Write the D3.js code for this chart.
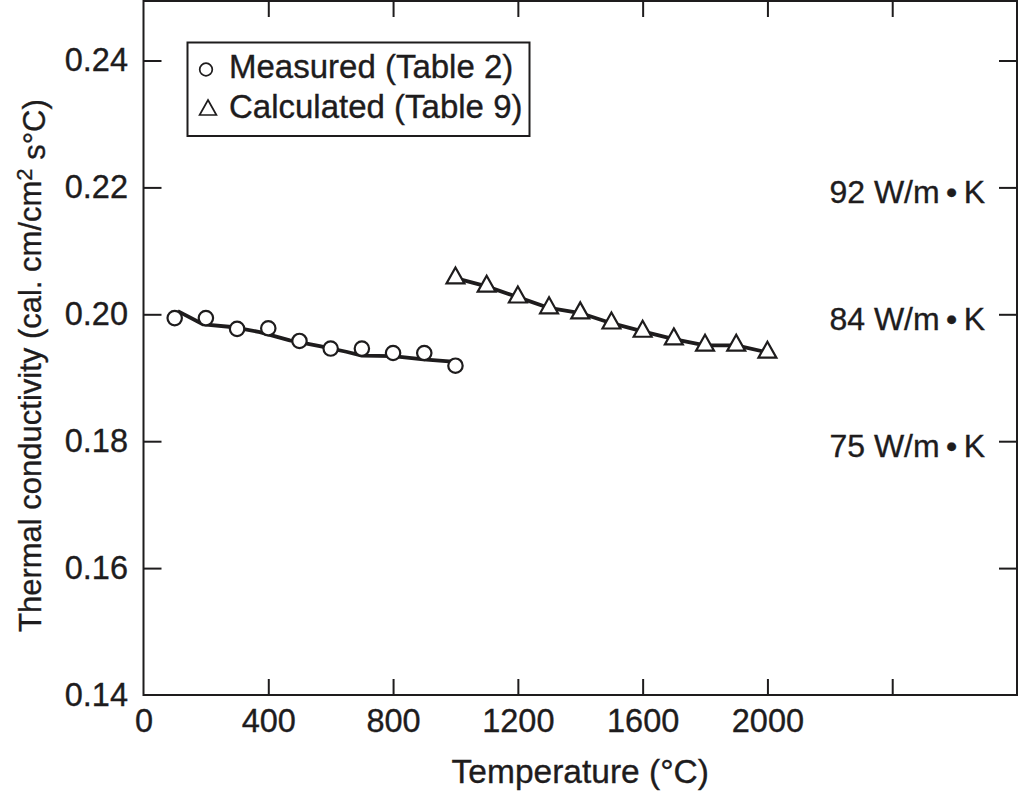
<!DOCTYPE html>
<html>
<head>
<meta charset="utf-8">
<script src="https://cdn.jsdelivr.net/npm/d3@7/dist/d3.min.js"></script>
<style>
  html, body { margin: 0; padding: 0; background: #fff; }
  svg { display: block; }
  text { font-family: "Liberation Sans", Arial, Helvetica, sans-serif; fill: #1e1c1d; stroke: #1e1c1d; stroke-width: 0.35px; }
</style>
</head>
<body>
<svg id="chart" width="1021" height="792"></svg>
<script>
// ---- data ----
const measuredT = [100, 200, 300, 400, 500, 600, 700, 800, 900, 1000];
const measuredK = [0.1994, 0.1994, 0.1977, 0.1978, 0.1958, 0.1946, 0.1946, 0.1939, 0.1939, 0.1919];

const measuredFitT = [110, 192, 283, 373, 469, 565, 650, 700, 800, 897, 1000];
const measuredFitK = [0.2005, 0.1984, 0.1980, 0.1972, 0.1959, 0.1950, 0.1941, 0.1935, 0.1934, 0.1929, 0.1925];

const calculatedT = [1000, 1100, 1200, 1300, 1400, 1500, 1600, 1700, 1800, 1900, 2000];
const calculatedK = [0.2057, 0.2044, 0.2027, 0.2010, 0.2002, 0.1986, 0.1973, 0.1961, 0.1951, 0.1951, 0.1940];

const xTickLabels = [0, 400, 800, 1200, 1600, 2000];
const xTickMarks = [400, 800, 1200, 1600, 2000, 2400];
const yTickLabels = [0.14, 0.16, 0.18, 0.20, 0.22, 0.24];
const yTickMarks = [0.16, 0.18, 0.20, 0.22, 0.24];

const siLabels = ["92 W/m\u2009\u2022\u2009K", "84 W/m\u2009\u2022\u2009K", "75 W/m\u2009\u2022\u2009K"];
const siLabelK = [0.22, 0.20, 0.18];

const legendLabels = ["Measured (Table 2)", "Calculated (Table 9)"];
const xTitle = "Temperature (\u00B0C)";

// ---- layout ----
const svg = d3.select("#chart");
const L = 143.5, R = 1017, T = 1, B = 695;
const x = d3.scaleLinear().domain([0, 2800]).range([L, R]);
const y = d3.scaleLinear().domain([0.14, 0.24]).range([B, 60.5]);
const ink = "#1e1c1d";

// frame
svg.append("rect")
  .attr("x", L).attr("y", T).attr("width", R - L).attr("height", B - T)
  .attr("fill", "none").attr("stroke", ink).attr("stroke-width", 2);

// bottom axis
const gB = svg.append("g").attr("transform", `translate(0,${B})`)
  .call(d3.axisBottom(x).tickValues(xTickLabels).tickSize(0).tickPadding(14).tickFormat(d3.format("d")));
gB.select(".domain").remove();
gB.selectAll("text").style("font-size", "32.5px").attr("fill", ink);

const gBm = svg.append("g").attr("transform", `translate(0,${B})`)
  .call(d3.axisBottom(x).tickValues(xTickMarks).tickSize(-16).tickFormat(""));
gBm.select(".domain").remove();
gBm.selectAll("line").attr("stroke", ink).attr("stroke-width", 2);

// top axis ticks
const gT = svg.append("g").attr("transform", `translate(0,${T})`)
  .call(d3.axisTop(x).tickValues(xTickMarks).tickSize(-16).tickFormat(""));
gT.select(".domain").remove();
gT.selectAll("line").attr("stroke", ink).attr("stroke-width", 2);

// left axis
const gL = svg.append("g").attr("transform", `translate(${L},0)`)
  .call(d3.axisLeft(y).tickValues(yTickLabels).tickSize(0).tickPadding(15.5).tickFormat(d3.format(".2f")));
gL.select(".domain").remove();
gL.selectAll("text").style("font-size", "32.5px").attr("fill", ink);

const gLm = svg.append("g").attr("transform", `translate(${L},0)`)
  .call(d3.axisLeft(y).tickValues(yTickMarks).tickSize(-18).tickFormat(""));
gLm.select(".domain").remove();
gLm.selectAll("line").attr("stroke", ink).attr("stroke-width", 2);

// right axis ticks
const gR = svg.append("g").attr("transform", `translate(${R},0)`)
  .call(d3.axisRight(y).tickValues(yTickMarks).tickSize(-18).tickFormat(""));
gR.select(".domain").remove();
gR.selectAll("line").attr("stroke", ink).attr("stroke-width", 2);

// SI labels
svg.append("g").selectAll("text").data(siLabels).join("text")
  .attr("x", 985).attr("y", (d, i) => y(siLabelK[i]) + 16)
  .attr("text-anchor", "end").style("font-size", "32px").text(d => d);

// axis titles
svg.append("text").attr("x", (L + R) / 2).attr("y", 783)
  .attr("text-anchor", "middle").style("font-size", "33.5px").text(xTitle);

const yt = svg.append("text")
  .attr("transform", `translate(41,632) rotate(-90)`)
  .attr("text-anchor", "start").style("font-size", "31px");
yt.append("tspan").text("Thermal conductivity (cal. cm/cm");
yt.append("tspan").attr("dy", "-0.42em").style("font-size", "22px").text("2");
yt.append("tspan").attr("dy", "0.42em").text(" s\u00B0C)");

// lines
const line = d3.line().x(d => x(d[0])).y(d => y(d[1]));
svg.append("path")
  .datum(measuredFitT.map((t, i) => [t, measuredFitK[i]]))
  .attr("d", line).attr("fill", "none").attr("stroke", ink)
  .attr("stroke-width", 3.8).attr("stroke-linejoin", "round");
svg.append("path")
  .datum(calculatedT.map((t, i) => [t, calculatedK[i]]))
  .attr("d", line).attr("fill", "none").attr("stroke", ink)
  .attr("stroke-width", 3.8).attr("stroke-linejoin", "round");

// markers
const tri = {
  draw(ctx, size) {
    const h = Math.sqrt(size);       // height
    const w = h * 1.12 / 2;          // half width
    ctx.moveTo(0, -2 * h / 3);
    ctx.lineTo(w, h / 3);
    ctx.lineTo(-w, h / 3);
    ctx.closePath();
  }
};

svg.append("g").selectAll("circle").data(measuredT).join("circle")
  .attr("cx", d => x(d)).attr("cy", (d, i) => y(measuredK[i]))
  .attr("r", 7.2).attr("fill", "#fff").attr("stroke", ink).attr("stroke-width", 2.2);

svg.append("g").selectAll("path").data(calculatedT).join("path")
  .attr("transform", (d, i) => `translate(${x(d)},${y(calculatedK[i])})`)
  .attr("d", d3.symbol(tri, 16 * 16)).attr("fill", "#fff")
  .attr("stroke", ink).attr("stroke-width", 2.2).attr("stroke-linejoin", "miter");

// legend
const lg = svg.append("g");
lg.append("rect").attr("x", 187.5).attr("y", 42.5).attr("width", 342).attr("height", 93.5)
  .attr("fill", "#fff").attr("stroke", ink).attr("stroke-width", 2);
lg.append("circle").attr("cx", 206).attr("cy", 69.5).attr("r", 6.3)
  .attr("fill", "#fff").attr("stroke", ink).attr("stroke-width", 1.7);
lg.append("path").attr("transform", "translate(208,110)")
  .attr("d", d3.symbol(tri, 15 * 15)).attr("fill", "#fff")
  .attr("stroke", ink).attr("stroke-width", 1.7);
lg.selectAll("text.lt").data(legendLabels).join("text").attr("class", "lt")
  .attr("x", 229).attr("y", (d, i) => 78 + i * 40)
  .style("font-size", "33px").text(d => d);
</script>
</body>
</html>
